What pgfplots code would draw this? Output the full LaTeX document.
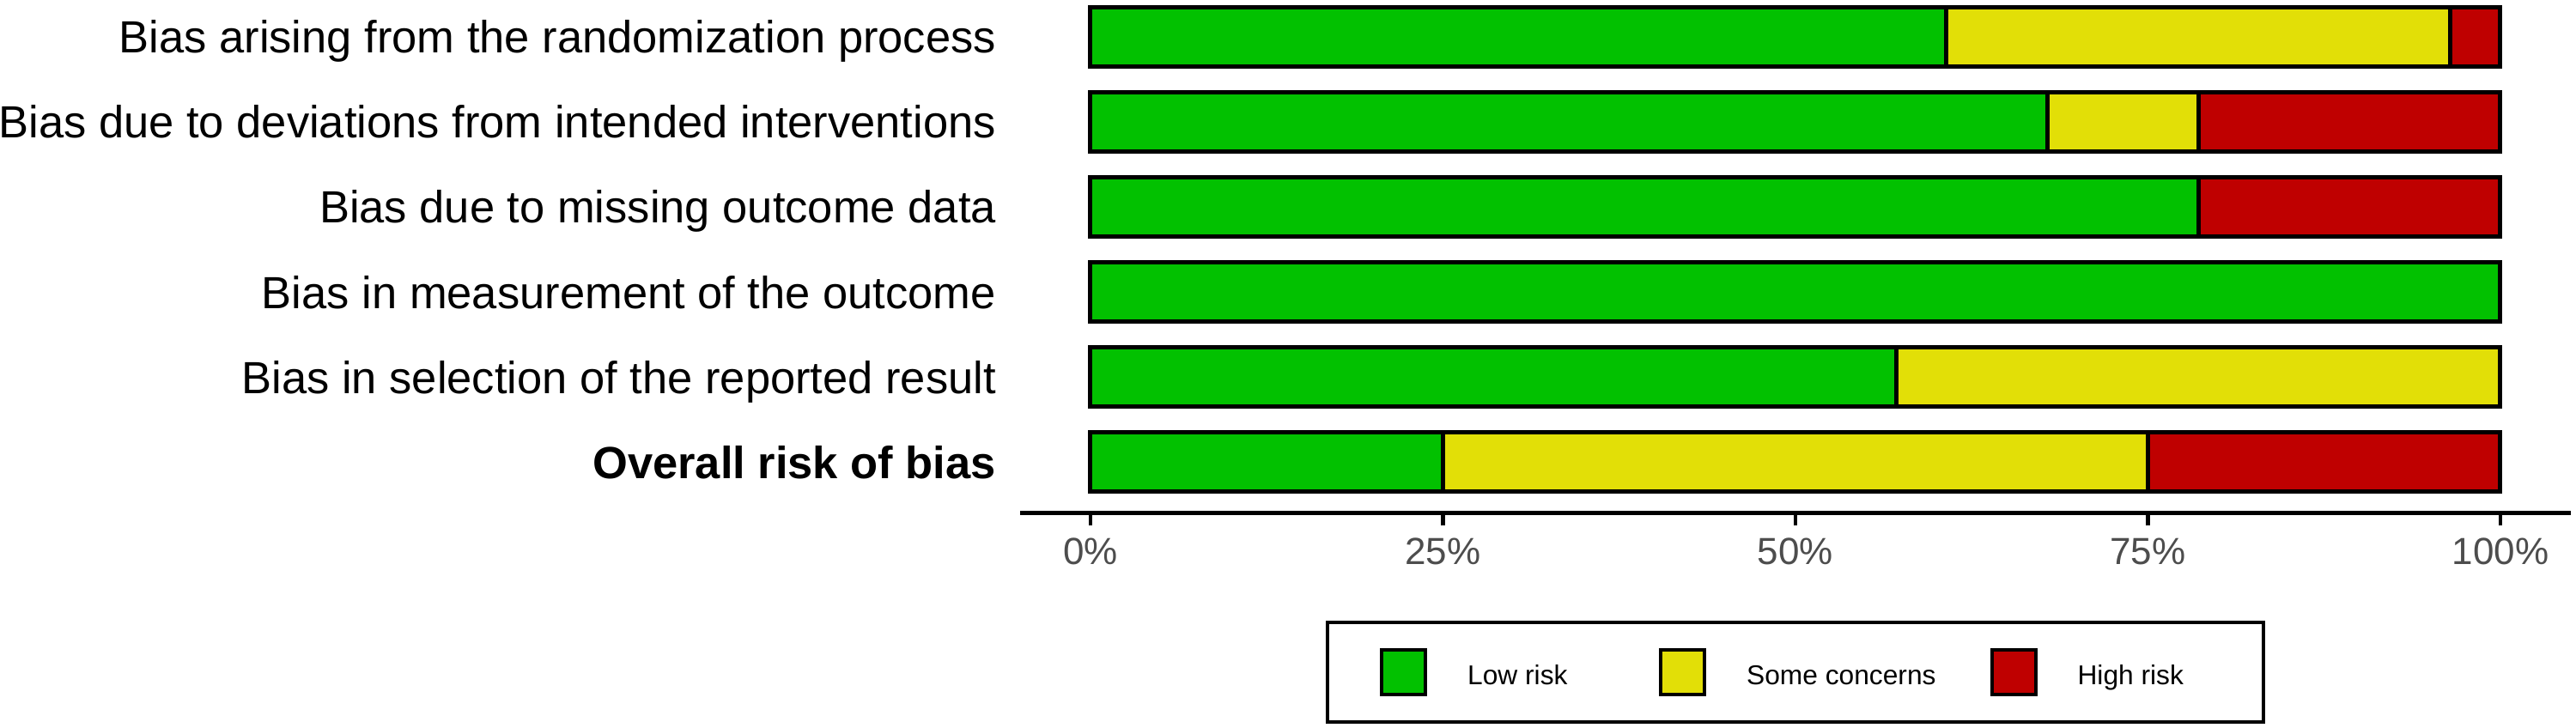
\documentclass[border=0pt]{standalone}
\usepackage{fontspec}
\setmainfont{Liberation Sans}
\usepackage{pgfplots}
\usepackage{pgfplotstable}
\pgfplotsset{compat=1.18}
\definecolor{lowc}{HTML}{02C100}
\definecolor{somec}{HTML}{E2DF07}
\definecolor{highc}{HTML}{BF0000}
\definecolor{ticklab}{HTML}{4D4D4D}
\pgfplotstableread{
y low some high
6 60.71 35.71 3.57
5 67.86 10.71 21.43
4 78.57 0 21.43
3 100 0 0
2 57.14 42.86 0
1 25 50 25
}\robdata
\begin{document}
\begin{tikzpicture}
\useasboundingbox (-296.95bp,-62.65bp) rectangle (453.05bp,149.35bp);
\begin{axis}[
  at={(0,0)}, anchor=south west,
  x=4.105bp, y=24.765bp,
  xmin=-5, xmax=105, ymin=0.4, ymax=6.431,
  xbar stacked, bar width=17.2bp,
  axis x line*=bottom, axis y line*=left,
  x axis line style={-, line width=1.07bp, black},
  y axis line style={draw=none},
  xtick={0,25,50,75,100},
  xticklabels={0\%,25\%,50\%,75\%,100\%},
  xtick align=outside,
  major tick length=3.75bp,
  xtick style={line width=1.07bp, black},
  xticklabel style={font=\fontsize{11bp}{13bp}\selectfont, text=ticklab, anchor=base, inner sep=0pt, yshift=-11.15bp},
  ytick={1,2,3,4,5,6},
  yticklabels={{\bfseries Overall risk of bias}, Bias in selection of the reported result, Bias in measurement of the outcome, Bias due to missing outcome data, Bias due to deviations from intended interventions, Bias arising from the randomization process},
  ytick style={draw=none},
  yticklabel style={font=\fontsize{13.125bp}{15bp}\selectfont, text=black, anchor=base east, inner sep=0pt, xshift=-6.75bp, yshift=-4.8bp},
  legend columns=3,
  legend cell align=left,
  legend style={at={(0.5,0)}, anchor=center, yshift=-46.4bp, draw=black, line width=1bp, inner xsep=15.25bp, inner ysep=7.6bp, font=\fontsize{7.93bp}{9bp}\selectfont, nodes={inner sep=0pt, text height=0.72em, text depth=0pt}, /tikz/every odd column/.append style={column sep=11.75bp}, /tikz/every even column/.append style={column sep=15.75bp}},
  legend image code/.code={\draw[#1, line width=1bp] (0bp,-6.5bp) rectangle (12.75bp,6.5bp);},
]
\addplot[fill=lowc, draw=black, line width=1.25bp] table[x=low, y=y] {\robdata};
\addlegendentry{\makebox[40bp][l]{Low risk}}
\addplot[fill=somec, draw=black, line width=1.25bp] table[x=some, y=y] {\robdata};
\addlegendentry{Some concerns}
\addplot[fill=highc, draw=black, line width=1.25bp] table[x=high, y=y] {\robdata};
\addlegendentry{\makebox[38.75bp][l]{High risk}}
\end{axis}
\end{tikzpicture}
\end{document}
